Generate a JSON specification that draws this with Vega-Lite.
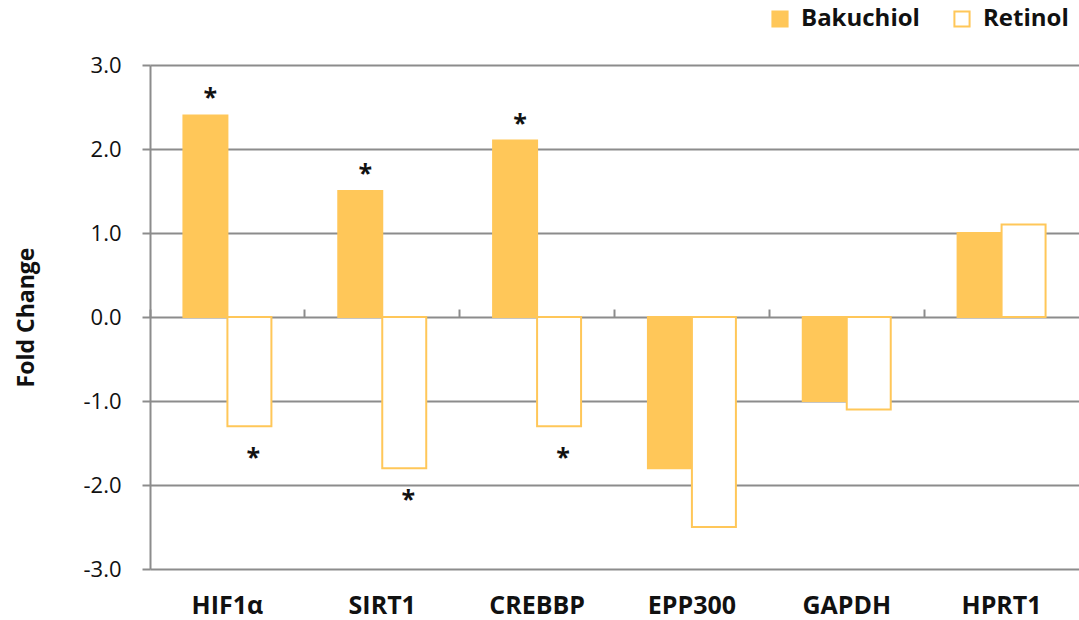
{
  "$schema": "https://vega.github.io/schema/vega-lite/v6.json",
  "autosize": {"type": "none"},
  "padding": {"left": 150, "top": 65, "right": 0, "bottom": 51},
  "width": 929,
  "height": 504,
  "background": "white",
  "config": {
    "view": {"stroke": null},
    "font": "Open Sans"
  },
  "data": {
    "values": [
      {"gene": "HIF1α", "series": "Bakuchiol", "value": 2.4, "sig": "*"},
      {"gene": "HIF1α", "series": "Retinol", "value": -1.3, "sig": "*"},
      {"gene": "SIRT1", "series": "Bakuchiol", "value": 1.5, "sig": "*"},
      {"gene": "SIRT1", "series": "Retinol", "value": -1.8, "sig": "*"},
      {"gene": "CREBBP", "series": "Bakuchiol", "value": 2.1, "sig": "*"},
      {"gene": "CREBBP", "series": "Retinol", "value": -1.3, "sig": "*"},
      {"gene": "EPP300", "series": "Bakuchiol", "value": -1.8, "sig": ""},
      {"gene": "EPP300", "series": "Retinol", "value": -2.5, "sig": ""},
      {"gene": "GAPDH", "series": "Bakuchiol", "value": -1.0, "sig": ""},
      {"gene": "GAPDH", "series": "Retinol", "value": -1.1, "sig": ""},
      {"gene": "HPRT1", "series": "Bakuchiol", "value": 1.0, "sig": ""},
      {"gene": "HPRT1", "series": "Retinol", "value": 1.1, "sig": ""}
    ]
  },
  "encoding": {
    "x": {
      "field": "gene", "type": "nominal",
      "sort": ["HIF1α", "SIRT1", "CREBBP", "EPP300", "GAPDH", "HPRT1"],
      "scale": {"paddingInner": 0, "paddingOuter": 0}
    },
    "xOffset": {
      "field": "series", "type": "nominal",
      "sort": ["Bakuchiol", "Retinol"],
      "scale": {"paddingInner": 0, "paddingOuter": 0.76}
    },
    "y": {
      "field": "value", "type": "quantitative",
      "scale": {"domain": [-3, 3], "nice": false, "zero": false},
      "axis": {
        "title": "Fold Change",
        "values": [-3, -2, -1, 0, 1, 2, 3],
        "labelExpr": "replace(format(datum.value, '.1f'), '−', '-')",
        "labelFont": "Open Sans",
        "labelFontSize": 22,
        "labelColor": "#111111",
        "labelPadding": 21,
        "tickSize": 8,
        "tickColor": "#8c8c8c",
        "tickWidth": 2,
        "domainColor": "#8c8c8c",
        "domainWidth": 2,
        "grid": true,
        "gridColor": "#8c8c8c",
        "gridWidth": 2,
        "gridOpacity": 1,
        "titleFont": "Open Sans",
        "titleFontSize": 23,
        "titleFontWeight": "bold",
        "titleColor": "#111111",
        "titlePadding": 44
      }
    }
  },
  "layer": [
    {
      "mark": {"type": "bar", "stroke": "#FFC759", "strokeWidth": 2},
      "encoding": {
        "x": {
          "field": "gene", "type": "nominal",
          "sort": ["HIF1α", "SIRT1", "CREBBP", "EPP300", "GAPDH", "HPRT1"],
          "axis": {
            "title": null,
            "labelAngle": 0,
            "domain": false,
            "ticks": false,
            "grid": false,
            "labelFont": "Open Sans",
            "labelFontSize": 25,
            "labelFontWeight": "bold",
            "labelColor": "#111111",
            "labelPadding": 24
          }
        },
        "fill": {
          "field": "series", "type": "nominal",
          "scale": {"domain": ["Bakuchiol", "Retinol"], "range": ["#FFC759", "#FFFFFF"]},
          "legend": {
            "title": null,
            "orient": "none",
            "direction": "horizontal",
            "legendX": 618,
            "legendY": -58,
            "symbolType": "square",
            "symbolSize": 230,
            "symbolStrokeColor": "#FFC759",
            "symbolStrokeWidth": 2,
            "symbolOpacity": 1,
            "labelFont": "Open Sans",
            "labelFontSize": 24,
            "labelFontWeight": "bold",
            "labelColor": "#111111",
            "labelOffset": 9,
            "columnPadding": 30
          }
        }
      }
    },
    {
      "transform": [{"filter": "datum.sig == '*' && datum.value > 0"}],
      "mark": {"type": "text", "fontSize": 25, "fontWeight": "bold", "color": "#111111", "dx": 5, "dy": -9, "baseline": "alphabetic"},
      "encoding": {
        "x": {
          "field": "gene", "type": "nominal",
          "sort": ["HIF1α", "SIRT1", "CREBBP", "EPP300", "GAPDH", "HPRT1"],
          "axis": {
            "title": null,
            "labels": false,
            "domain": false,
            "grid": false,
            "ticks": true,
            "bandPosition": 0,
            "tickSize": 8,
            "tickColor": "#8c8c8c",
            "tickWidth": 2,
            "offset": -252
          }
        },
        "text": {"field": "sig"}
      }
    },
    {
      "transform": [{"filter": "datum.sig == '*' && datum.value < 0"}],
      "mark": {"type": "text", "fontSize": 25, "fontWeight": "bold", "color": "#111111", "dx": 4, "dy": 40, "baseline": "alphabetic"},
      "encoding": {
        "x": {
          "field": "gene", "type": "nominal",
          "sort": ["HIF1α", "SIRT1", "CREBBP", "EPP300", "GAPDH", "HPRT1"],
          "axis": null
        },
        "text": {"field": "sig"}
      }
    }
  ],
  "resolve": {"axis": {"x": "independent"}}
}
